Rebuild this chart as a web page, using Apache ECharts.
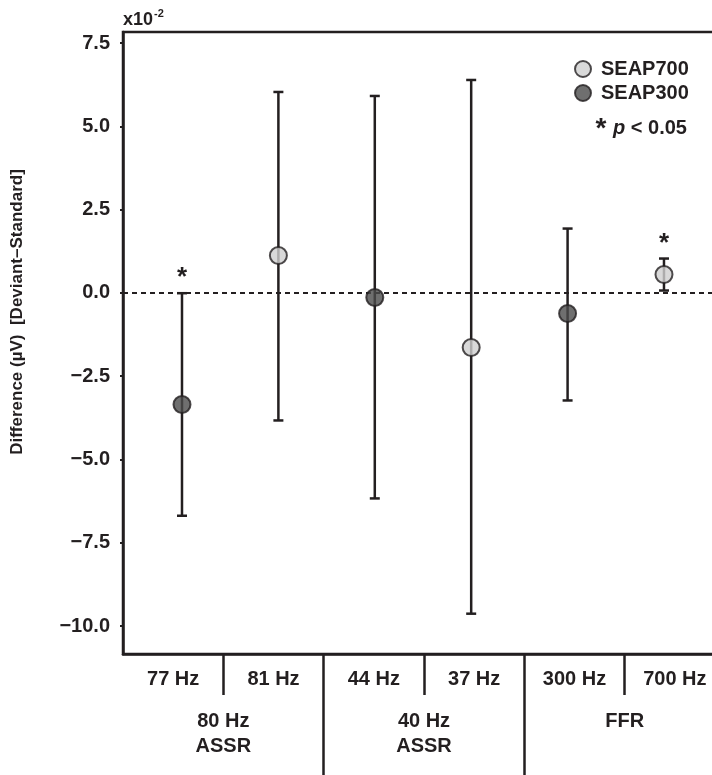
<!DOCTYPE html>
<html>
<head>
<meta charset="utf-8">
<script src="https://cdn.jsdelivr.net/npm/echarts@6/dist/echarts.min.js"></script>
<style>
  html, body { margin: 0; padding: 0; background: #ffffff; }
  #chart { width: 712px; height: 775px; }
</style>
</head>
<body>
<div id="chart"></div>
<script>
// Conditions along the x axis and the response group each pair belongs to
const categories = ['77 Hz', '81 Hz', '44 Hz', '37 Hz', '300 Hz', '700 Hz'];
const groups = ['80 Hz\nASSR', '40 Hz\nASSR', 'FFR'];
// Which stimulus set each condition belongs to
const stimulus = ['SEAP300', 'SEAP700', 'SEAP300', 'SEAP700', 'SEAP300', 'SEAP700'];
// Deviant minus standard difference (x10^-2 µV) with its interval limits
const meanDiff = [-3.35, 1.12, -0.14, -1.64, -0.62, 0.55];
const upperLimit = [-0.01, 6.03, 5.91, 6.39, 1.93, 1.03];
const lowerLimit = [-6.69, -3.83, -6.17, -9.63, -3.23, 0.07];
const significant = [true, false, false, false, false, true];
// Y axis tick values
const yTicks = [7.5, 5.0, 2.5, 0.0, -2.5, -5.0, -7.5, -10.0];

const ink = '#231f20';
const font = "'Liberation Sans', Arial, Helvetica, sans-serif";
const fillLight = '#cfcfcf';
const fillDark = '#4b4b4b';

const chart = echarts.init(document.getElementById('chart'), null, { renderer: 'canvas' });

function pointsFor(name) {
  const out = [];
  categories.forEach((c, i) => {
    if (stimulus[i] === name) out.push([i, meanDiff[i]]);
  });
  return out;
}

const errorData = categories.map((c, i) => [i, lowerLimit[i], upperLimit[i], significant[i] ? 1 : 0]);

const option = {
  backgroundColor: '#ffffff',
  animation: false,
  textStyle: { fontFamily: font, color: ink },
  grid: {
    // the plotting area runs on past the right edge of the canvas
    left: 123, top: 32, width: 602, bottom: 121,
    outerBoundsMode: 'none',
    containLabel: false,
    show: true, borderColor: ink, borderWidth: 2.5, backgroundColor: 'transparent'
  },
  legend: {
    orient: 'vertical',
    left: 574, top: 59,
    padding: 0,
    itemWidth: 16, itemHeight: 16, itemGap: 4,
    icon: 'circle',
    data: ['SEAP700', 'SEAP300'],
    textStyle: { fontFamily: font, fontWeight: 'bold', fontSize: 20, color: ink, padding: [0, 0, 0, 5] }
  },
  xAxis: [
    {
      type: 'category',
      data: categories,
      position: 'bottom',
      boundaryGap: true,
      axisLine: { show: true, onZero: false, lineStyle: { color: ink, width: 2.5 } },
      axisTick: {
        show: true, inside: false, length: 41,
        interval: (idx) => idx % 2 === 1,
        lineStyle: { color: ink, width: 2.5 }
      },
      axisLabel: {
        show: true, interval: 0, margin: 15, hideOverlap: false,
        fontFamily: font, fontWeight: 'bold', fontSize: 20, color: ink
      },
      splitLine: { show: false }
    },
    {
      type: 'category',
      data: groups,
      position: 'bottom',
      boundaryGap: true,
      axisLine: { show: false, onZero: false },
      axisTick: {
        show: true, inside: false, length: 125,
        interval: (idx) => idx > 0,
        lineStyle: { color: ink, width: 2.5 }
      },
      axisLabel: {
        show: true, interval: 0, margin: 55, hideOverlap: false,
        fontFamily: font, fontWeight: 'bold', fontSize: 20, lineHeight: 25, color: ink
      },
      splitLine: { show: false }
    },
    {
      // positioning axis for the markers within each condition band
      type: 'value',
      min: -0.612, max: 5.633,
      show: false,
      axisLine: { onZero: false },
      splitLine: { show: false }
    }
  ],
  yAxis: {
    type: 'value',
    min: -10.84, max: 7.83,
    axisLine: { show: true, onZero: false, lineStyle: { color: ink, width: 2.5 } },
    axisTick: { show: true, length: 3, customValues: yTicks, lineStyle: { color: ink, width: 2 } },
    axisLabel: {
      customValues: yTicks,
      margin: 13,
      fontFamily: font, fontWeight: 'bold', fontSize: 20, color: ink,
      formatter: (v) => (v < 0 ? '\u2212' : '') + Math.abs(v).toFixed(1)
    },
    splitLine: { show: false }
  },
  graphic: [
    {
      // y axis title
      type: 'text',
      x: 17, y: 312,
      rotation: Math.PI / 2,
      style: {
        text: 'Difference (µV)  [Deviant–Standard]',
        align: 'center', verticalAlign: 'middle',
        fontFamily: font, fontWeight: 'bold', fontSize: 17, fill: ink
      }
    },
    {
      // axis scale factor
      type: 'text',
      x: 123, y: 20,
      style: {
        text: 'x10', align: 'left', verticalAlign: 'middle',
        fontFamily: font, fontWeight: 'bold', fontSize: 18, fill: ink
      }
    },
    {
      type: 'text',
      x: 154, y: 14,
      style: {
        text: '-2', align: 'left', verticalAlign: 'middle',
        fontFamily: font, fontWeight: 'bold', fontSize: 11, fill: ink
      }
    },
    {
      // significance note
      type: 'text',
      x: 601, y: 129,
      style: {
        text: '*', align: 'center', verticalAlign: 'middle',
        fontFamily: font, fontWeight: 'bold', fontSize: 28, fill: ink
      }
    },
    {
      type: 'text',
      x: 613, y: 128,
      style: {
        text: '{p|p}{t| < 0.05}',
        align: 'left', verticalAlign: 'middle',
        rich: {
          p: { fontFamily: font, fontWeight: 'bold', fontStyle: 'italic', fontSize: 20, fill: ink },
          t: { fontFamily: font, fontWeight: 'bold', fontSize: 20, fill: ink }
        }
      }
    }
  ],
  series: [
    {
      name: 'interval',
      type: 'custom',
      xAxisIndex: 2,
      yAxisIndex: 0,
      data: errorData,
      encode: { x: 0, y: [1, 2] },
      z: 2,
      renderItem: function (params, api) {
        const i = api.value(0);
        const x = api.coord([i, 0])[0];
        const yLow = api.coord([i, api.value(1)])[1];
        const yHigh = api.coord([i, api.value(2)])[1];
        const lw = 2.5;
        const cap = 5;
        const children = [
          { type: 'line', shape: { x1: x, y1: yHigh, x2: x, y2: yLow }, style: { stroke: ink, lineWidth: lw } },
          { type: 'line', shape: { x1: x - cap, y1: yHigh, x2: x + cap, y2: yHigh }, style: { stroke: ink, lineWidth: lw } },
          { type: 'line', shape: { x1: x - cap, y1: yLow, x2: x + cap, y2: yLow }, style: { stroke: ink, lineWidth: lw } }
        ];
        if (api.value(3)) {
          children.push({
            type: 'text',
            x: x, y: yHigh - 15,
            style: {
              text: '*', fill: ink, align: 'center', verticalAlign: 'middle',
              fontFamily: font, fontWeight: 'bold', fontSize: 26
            }
          });
        }
        return { type: 'group', children: children };
      },
      markLine: {
        silent: true,
        symbol: 'none',
        label: { show: false },
        lineStyle: { color: ink, width: 2.2, type: [5, 4] },
        data: [{ yAxis: 0 }]
      }
    },
    {
      name: 'SEAP700',
      type: 'scatter',
      xAxisIndex: 2,
      yAxisIndex: 0,
      data: pointsFor('SEAP700'),
      symbol: 'circle',
      symbolSize: 17,
      z: 5,
      itemStyle: { color: fillLight, borderColor: ink, borderWidth: 2 }
    },
    {
      name: 'SEAP300',
      type: 'scatter',
      xAxisIndex: 2,
      yAxisIndex: 0,
      data: pointsFor('SEAP300'),
      symbol: 'circle',
      symbolSize: 17,
      z: 5,
      itemStyle: { color: fillDark, borderColor: ink, borderWidth: 2 }
    }
  ]
};

chart.setOption(option);
</script>
</body>
</html>
